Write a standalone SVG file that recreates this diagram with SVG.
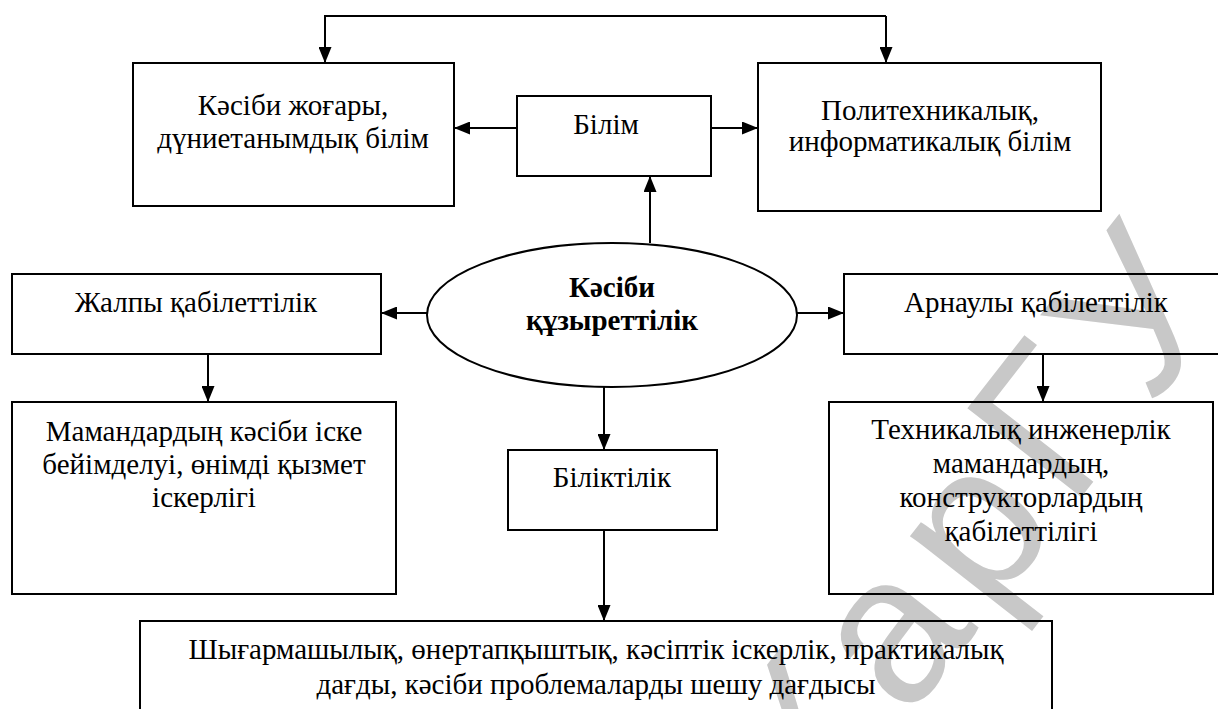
<svg xmlns="http://www.w3.org/2000/svg" width="1218" height="709" viewBox="0 0 1218 709">
<defs>
<marker id="ah" markerWidth="16" markerHeight="13" refX="16" refY="6.5" orient="auto" markerUnits="userSpaceOnUse">
<path d="M0,0 L16,6.5 L0,13 Z" fill="#000"/>
</marker>
<style>
.box{fill:none;stroke:#000;stroke-width:2}
.c{fill:none;stroke:#000;stroke-width:2;marker-end:url(#ah)}
</style>
</defs>
<rect width="1218" height="709" fill="#fff"/>
<text transform="translate(822,829) rotate(-52)" style="font-family:'Liberation Sans',sans-serif;font-size:210px;letter-spacing:16px;fill:#c8c8c8">КарГУ</text>
<g id="connectors">
<path class="c" d="M886,16 H325 V63"/>
<path class="c" d="M886,16 V63"/>
<path class="c" d="M517,128 H454"/>
<path class="c" d="M711,128 H758"/>
<path class="c" d="M650,243 V176"/>
<path class="c" d="M427,313 H381"/>
<path class="c" d="M797,313 H844"/>
<path class="c" d="M604,387 V450"/>
<path class="c" d="M208,354 V402"/>
<path class="c" d="M1043,354 V402"/>
<path class="c" d="M604,530 V621"/>
</g>
<g id="n-kasibi-zhogary">
<rect class="box" x="133" y="63" width="321" height="143"/>
<text x="293" y="115" text-anchor="middle" style="font-family:'Liberation Serif',serif;font-size:29px;fill:#000">Кәсіби жоғары,</text>
<text x="293" y="148" text-anchor="middle" style="font-family:'Liberation Serif',serif;font-size:29px;fill:#000">дүниетанымдық білім</text>
</g>
<g id="n-bilim">
<rect class="box" x="517" y="96" width="194" height="80"/>
<text x="606" y="134" text-anchor="middle" style="font-family:'Liberation Serif',serif;font-size:29px;fill:#000">Білім</text>
</g>
<g id="n-politeh">
<rect class="box" x="758" y="63" width="343" height="148"/>
<text x="930" y="120" text-anchor="middle" style="font-family:'Liberation Serif',serif;font-size:29px;fill:#000">Политехникалық,</text>
<text x="930" y="151" text-anchor="middle" style="font-family:'Liberation Serif',serif;font-size:29px;fill:#000">информатикалық білім</text>
</g>
<g id="n-kuzyrettilik">
<ellipse cx="612" cy="315" rx="185" ry="72" fill="none" stroke="#000" stroke-width="2"/>
<text x="612" y="297" text-anchor="middle" style="font-family:'Liberation Serif',serif;font-size:29px;font-weight:bold;fill:#000">Кәсіби</text>
<text x="612" y="330" text-anchor="middle" style="font-family:'Liberation Serif',serif;font-size:29px;font-weight:bold;fill:#000">құзыреттілік</text>
</g>
<g id="n-zhalpy">
<rect class="box" x="12" y="274" width="369" height="80"/>
<text x="196" y="312" text-anchor="middle" style="font-family:'Liberation Serif',serif;font-size:29px;fill:#000">Жалпы қабілеттілік</text>
</g>
<g id="n-arnauly">
<rect class="box" x="844" y="274" width="390" height="80"/>
<text x="1036" y="312" text-anchor="middle" style="font-family:'Liberation Serif',serif;font-size:29px;fill:#000">Арнаулы қабілеттілік</text>
</g>
<g id="n-mamandar">
<rect class="box" x="12" y="402" width="384" height="192"/>
<text x="204" y="441" text-anchor="middle" style="font-family:'Liberation Serif',serif;font-size:29px;fill:#000">Мамандардың кәсіби іске</text>
<text x="204" y="474" text-anchor="middle" style="font-family:'Liberation Serif',serif;font-size:29px;fill:#000">бейімделуі, өнімді қызмет</text>
<text x="204" y="507" text-anchor="middle" style="font-family:'Liberation Serif',serif;font-size:29px;fill:#000">іскерлігі</text>
</g>
<g id="n-biliktilik">
<rect class="box" x="508" y="450" width="209" height="80"/>
<text x="612" y="487" text-anchor="middle" style="font-family:'Liberation Serif',serif;font-size:29px;fill:#000">Біліктілік</text>
</g>
<g id="n-tehnikalyk">
<rect class="box" x="829" y="402" width="384" height="192"/>
<text x="1021" y="439" text-anchor="middle" style="font-family:'Liberation Serif',serif;font-size:29px;fill:#000">Техникалық инженерлік</text>
<text x="1021" y="473" text-anchor="middle" style="font-family:'Liberation Serif',serif;font-size:29px;fill:#000">мамандардың,</text>
<text x="1021" y="507" text-anchor="middle" style="font-family:'Liberation Serif',serif;font-size:29px;fill:#000">конструкторлардың</text>
<text x="1021" y="541" text-anchor="middle" style="font-family:'Liberation Serif',serif;font-size:29px;fill:#000">қабілеттілігі</text>
</g>
<g id="n-shygarmashylyk">
<rect class="box" x="140" y="621" width="912" height="110"/>
<text x="596" y="659" text-anchor="middle" style="font-family:'Liberation Serif',serif;font-size:29px;fill:#000">Шығармашылық, өнертапқыштық, кәсіптік іскерлік, практикалық</text>
<text x="596" y="694" text-anchor="middle" style="font-family:'Liberation Serif',serif;font-size:29px;fill:#000">дағды, кәсіби проблемаларды шешу дағдысы</text>
</g>
</svg>
